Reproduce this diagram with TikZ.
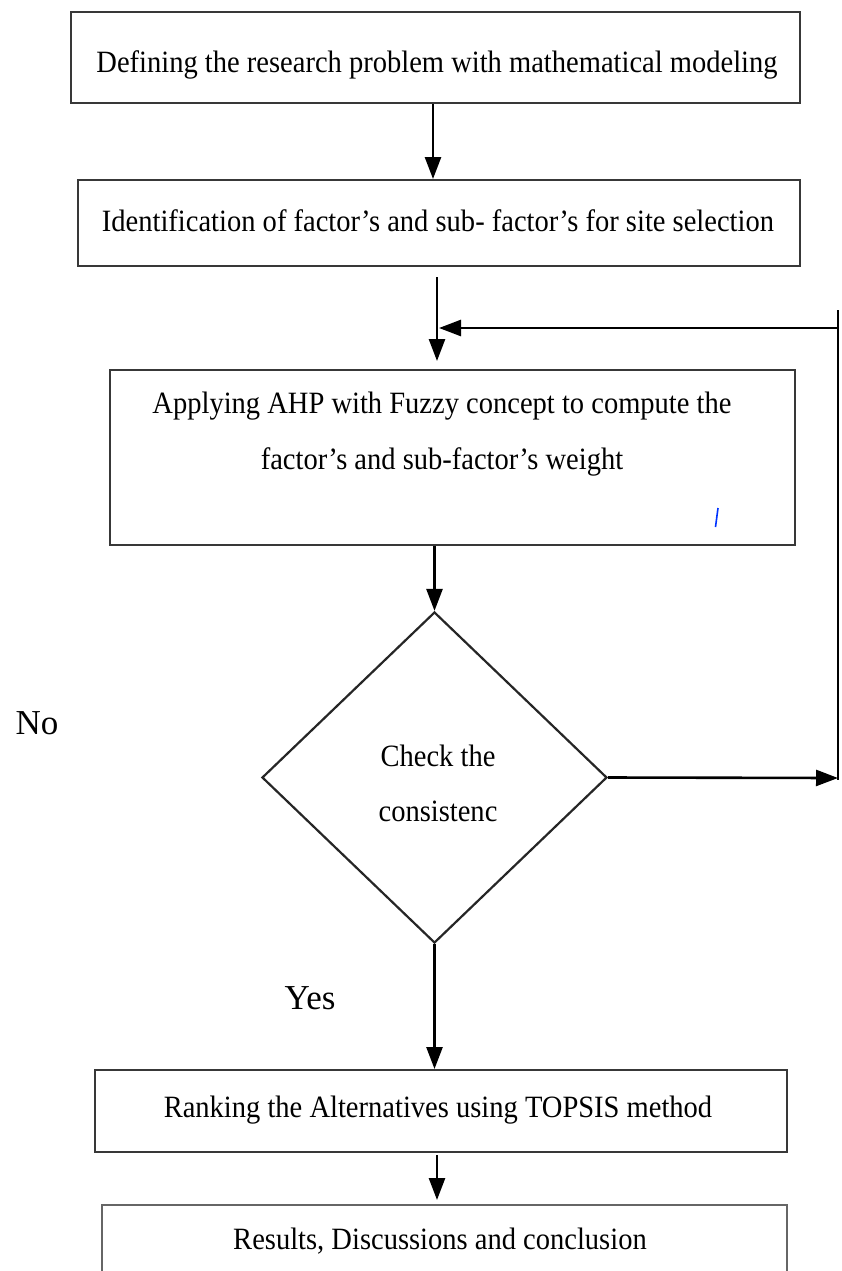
\documentclass[tikz,border=0pt]{standalone}
\usepackage{fontspec}
\setmainfont{Liberation Serif}
\usetikzlibrary{arrows.meta,shapes.geometric}
\newcommand{\sqz}[1]{\scalebox{0.92}[1]{#1}}
\begin{document}
\begin{tikzpicture}[x=1pt,y=-1pt,
  box/.style={draw=black!78,line width=2pt,rectangle,inner sep=0pt},
  txt/.style={font=\fontsize{31}{36}\selectfont,inner sep=0pt,anchor=base},
  lbl/.style={font=\fontsize{35}{40}\selectfont,inner sep=0pt,anchor=base},
  arr/.style={line width=2.6pt,-{Triangle[width=16pt,length=22pt]}},
  ln/.style={line width=2.6pt}]
\useasboundingbox (0,0) rectangle (841,1271);
\clip (0,0) rectangle (841,1271);
\fill[white] (0,0) rectangle (841,1271);
% boxes
\node[box,minimum width=729pt,minimum height=91pt] (b1) at (435.5,57.5) {};
\node[box,minimum width=722pt,minimum height=86pt] (b2) at (439,223) {};
\node[box,minimum width=685pt,minimum height=175pt] (b3) at (452.5,457.5) {};
\node[draw=black!85,line width=2.2pt,diamond,inner sep=0pt,minimum width=345pt,minimum height=331pt] (d) at (434.5,777.5) {};
\node[box,minimum width=692pt,minimum height=82pt] (b5) at (441,1111) {};
\node[box,draw=black!60,minimum width=685pt,minimum height=120pt] (b6) at (444.5,1265) {};
% texts
\node[txt] (t1) at (437,73) {\sqz{Defining the research problem with mathematical modeling}};
\node[txt] (t2) at (438,231) {\sqz{Identification of factor’s and sub- factor’s for site selection}};
\node[txt] (t3a) at (442,413) {\sqz{Applying AHP with Fuzzy concept to compute the}};
\node[txt] (t3b) at (442,469) {\sqz{factor’s and sub-factor’s weight}};
\node[txt] (t4a) at (438,766) {\sqz{Check the}};
\node[txt] (t4b) at (438,821) {\sqz{consistenc}};
\node[txt] (t5) at (438,1117) {\sqz{Ranking the Alternatives using TOPSIS method}};
\node[txt] (t6) at (440,1249) {\sqz{Results, Discussions and conclusion}};
\node[lbl] (no) at (37,734) {No};
\node[lbl] (yes) at (310,1009) {Yes};
% feedback loop coordinates
\coordinate (rt) at (838,310);
\coordinate (rb) at (838,780);
\coordinate (rj) at (838,328);
\coordinate (rd) at (838,778);
% connectors
\draw[arr] ([xshift=-2.5pt]b1.south) -- ([xshift=-2.5pt]b1.south |- b2.north);
\draw[arr] ([xshift=-2pt,yshift=-10pt]b2.south) -- ([xshift=-2pt,yshift=8pt]b2.south |- b3.north);
\draw[ln] (rt) -- (rb);
\draw[arr] (rj) -- ([xshift=-13.5pt]b3.north |- rj);
\draw[arr] (b3.south -| d.north) -- (d.north);
\draw[arr] (d.east) -- (rd);
\draw[arr] (d.south) -- (d.south |- b5.north);
\draw[arr] ([xshift=-4pt,yshift=-2pt]b5.south) -- ([xshift=-4pt,yshift=4pt]b5.south |- b6.north);
% stray blue mark
\draw[blue!80!cyan,line width=1.6pt] (718,508) -- (715.5,527);
\end{tikzpicture}
\end{document}
